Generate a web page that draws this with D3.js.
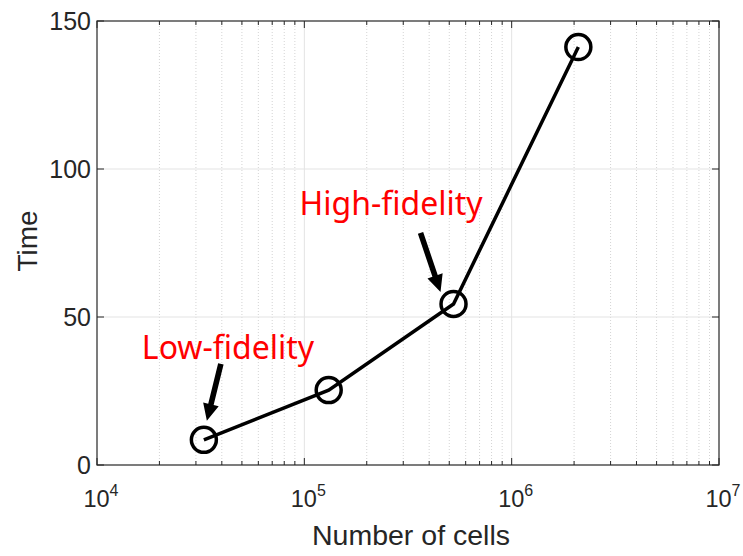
<!DOCTYPE html>
<html><head><meta charset="utf-8">
<script src="https://cdn.jsdelivr.net/npm/d3@7"></script>
<style>body{margin:0;background:#fff}svg{display:block}</style>
</head><body><svg id="c" width="743" height="556"></svg>
<script>
const cells = [32768, 131072, 524288, 2097152];
const times = [8.5, 25.3, 54.4, 141.2];
const xTicks = [1e4, 1e5, 1e6, 1e7];
const xTickExp = ["4", "5", "6", "7"];
const yTicks = [0, 50, 100, 150];
const annLabels = ["Low-fidelity", "High-fidelity"];
const annPoint = [0, 2];

const W = 743, H = 556;
const m = {l: 97, r: 24, t: 21, b: 91};
const svg = d3.select("#c");
const x = d3.scaleLog().domain([1e4, 1e7]).range([m.l, W - m.r]);
const y = d3.scaleLinear().domain([0, 150]).range([H - m.b, m.t]);
const x0 = m.l, x1 = W - m.r, y0 = H - m.b, y1 = m.t;

const minor = [];
for (let e = 4; e < 7; e++) for (let k = 2; k <= 9; k++) minor.push(k * Math.pow(10, e));

const g = svg.append("g");
g.selectAll(".mg").data(minor).join("line")
  .attr("x1", d => x(d)).attr("x2", d => x(d)).attr("y1", y0).attr("y2", y1)
  .attr("stroke", "#d4d4d4").attr("stroke-width", 1).attr("stroke-dasharray", "1,2");
g.selectAll(".gx").data(xTicks.slice(1, -1)).join("line")
  .attr("x1", d => x(d)).attr("x2", d => x(d)).attr("y1", y0).attr("y2", y1)
  .attr("stroke", "#e3e3e3").attr("stroke-width", 1);
g.selectAll(".gy").data(yTicks.slice(1, -1)).join("line")
  .attr("y1", d => y(d)).attr("y2", d => y(d)).attr("x1", x0).attr("x2", x1)
  .attr("stroke", "#e3e3e3").attr("stroke-width", 1);

const tc = "#262626";
const tk = svg.append("g").attr("stroke", tc).attr("stroke-width", 1);
xTicks.forEach(d => {
  tk.append("line").attr("x1", x(d)).attr("x2", x(d)).attr("y1", y0).attr("y2", y0 - 7);
  tk.append("line").attr("x1", x(d)).attr("x2", x(d)).attr("y1", y1).attr("y2", y1 + 7);
});
minor.forEach(d => {
  tk.append("line").attr("x1", x(d)).attr("x2", x(d)).attr("y1", y0).attr("y2", y0 - 4);
  tk.append("line").attr("x1", x(d)).attr("x2", x(d)).attr("y1", y1).attr("y2", y1 + 4);
});
yTicks.forEach(d => {
  tk.append("line").attr("y1", y(d)).attr("y2", y(d)).attr("x1", x0).attr("x2", x0 + 7);
  tk.append("line").attr("y1", y(d)).attr("y2", y(d)).attr("x1", x1).attr("x2", x1 - 7);
});
svg.append("rect").attr("x", x0).attr("y", y1).attr("width", x1 - x0).attr("height", y0 - y1)
  .attr("fill", "none").attr("stroke", tc).attr("stroke-width", 1.2);

const font = "'Liberation Sans', Arial, sans-serif";
svg.selectAll(".yl").data(yTicks).join("text")
  .attr("x", x0 - 6).attr("y", d => y(d)).attr("dy", "0.36em")
  .attr("text-anchor", "end").attr("font-family", font).attr("font-size", 25).attr("fill", "#262626")
  .text(d => d);
xTicks.forEach((d, i) => {
  const t = svg.append("text").attr("x", x(d) + 4).attr("y", 507)
    .attr("text-anchor", "middle").attr("font-family", font).attr("font-size", 23.5).attr("fill", "#262626");
  t.append("tspan").text("10");
  t.append("tspan").attr("dy", -11).attr("font-size", 16).text(xTickExp[i]);
});
svg.append("text").attr("x", (x0 + x1) / 2 + 3).attr("y", 545).attr("text-anchor", "middle")
  .attr("font-family", font).attr("font-size", 28.5).attr("fill", "#262626").text("Number of cells");
svg.append("text").attr("transform", `translate(37,${(y0 + y1) / 2 - 2}) rotate(-90)`).attr("text-anchor", "middle")
  .attr("font-family", font).attr("font-size", 28).attr("fill", "#262626").text("Time");

const pts = cells.map((c, i) => [c, times[i]]);
svg.append("path").datum(pts)
  .attr("d", d3.line().x(d => x(d[0])).y(d => y(d[1])))
  .attr("fill", "none").attr("stroke", "#000").attr("stroke-width", 3.5);
svg.selectAll(".pt").data(pts).join("circle")
  .attr("cx", d => x(d[0])).attr("cy", d => y(d[1])).attr("r", 12.5)
  .attr("fill", "none").attr("stroke", "#000").attr("stroke-width", 3.5);

const annTip = [[3, -19], [-13, -12]];
const annTail = [[17, -76], [-33, -71]];
const annText = [[-62, -81], [-154, -89]];
function arrow(xa, ya, xb, yb) {
  const ang = Math.atan2(yb - ya, xb - xa);
  const hl = 17, hw = 8, sw = 2.8;
  const bx = xb - hl * Math.cos(ang), by = yb - hl * Math.sin(ang);
  const px = -Math.sin(ang), py = Math.cos(ang);
  return `M${xa + px * sw},${ya + py * sw} L${bx + px * sw},${by + py * sw} L${bx + px * hw},${by + py * hw} L${xb},${yb} L${bx - px * hw},${by - py * hw} L${bx - px * sw},${by - py * sw} L${xa - px * sw},${ya - py * sw} Z`;
}
annLabels.forEach((lab, i) => {
  const p = pts[annPoint[i]];
  const px = x(p[0]), py = y(p[1]);
  svg.append("path").attr("d", arrow(px + annTail[i][0], py + annTail[i][1], px + annTip[i][0], py + annTip[i][1]))
    .attr("fill", "#000");
  svg.append("text").attr("x", px + annText[i][0]).attr("y", py + annText[i][1])
    .attr("font-family", "'Noto Sans', 'Open Sans', sans-serif").attr("font-size", 32).attr("fill", "#ff0000")
    .text(lab);
});
</script></body></html>
